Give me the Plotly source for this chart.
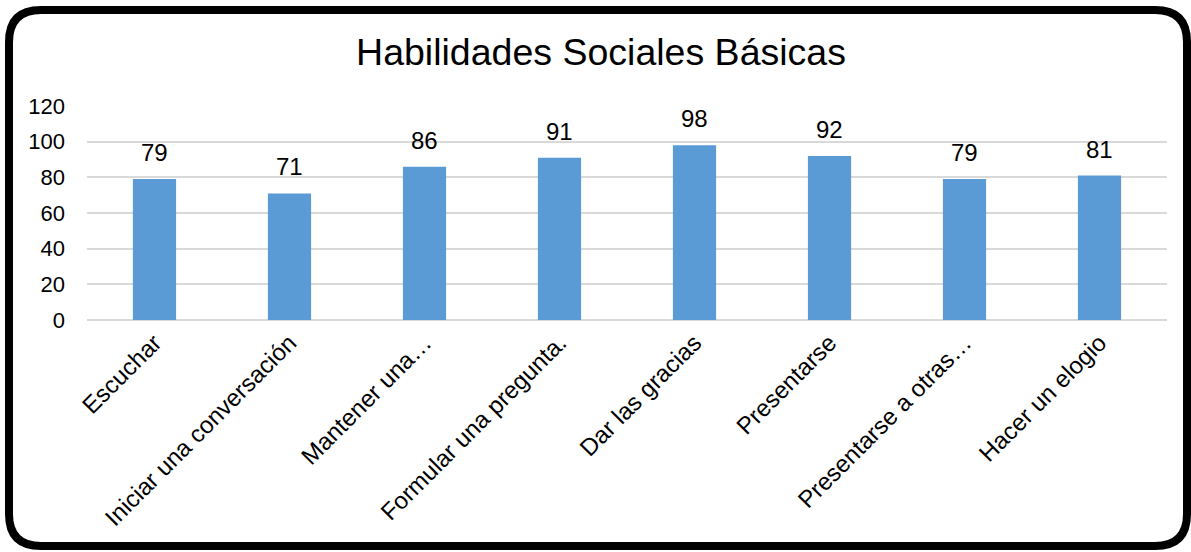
import plotly.graph_objects as go

categories = ["Escuchar", "Iniciar una conversación", "Mantener una…", "Formular una pregunta.",
              "Dar las gracias", "Presentarse", "Presentarse a otras…", "Hacer un elogio"]
values = [79, 71, 86, 91, 98, 92, 79, 81]
y_ticks = [0, 20, 40, 60, 80, 100, 120]

W, H = 1191, 552
L, R, T, B = 87, 24, 106, 232
PW, PH = W - L - R, H - T - B
FONT = "Arial, Liberation Sans, sans-serif"

fig = go.Figure()
fig.add_trace(go.Bar(x=categories, y=values, marker=dict(color="#5B9BD5", line=dict(width=0)),
                     width=0.32, hoverinfo="skip"))

for c, v in zip(categories, values):
    fig.add_annotation(x=c, y=v, text=str(v), showarrow=False, yanchor="bottom", yshift=11,
                       font=dict(size=24, color="#000000", family=FONT))

def px(x):
    return (x - L) / PW

def py(y):
    return (H - B - y) / PH

# rounded border
x0, x1, y0, y1, r = 9, 1187, 10, 546, 32
pts = [
    f"M {px(x0 + r)},{py(y0)}",
    f"L {px(x1 - r)},{py(y0)}",
    f"Q {px(x1)},{py(y0)} {px(x1)},{py(y0 + r)}",
    f"L {px(x1)},{py(y1 - r)}",
    f"Q {px(x1)},{py(y1)} {px(x1 - r)},{py(y1)}",
    f"L {px(x0 + r)},{py(y1)}",
    f"Q {px(x0)},{py(y1)} {px(x0)},{py(y1 - r)}",
    f"L {px(x0)},{py(y0 + r)}",
    f"Q {px(x0)},{py(y0)} {px(x0 + r)},{py(y0)} Z",
]
fig.add_shape(type="path", path=" ".join(pts), xref="paper", yref="paper",
              line=dict(color="#000000", width=8), layer="above")

fig.update_layout(
    width=W, height=H,
    margin=dict(l=L, r=R, t=T, b=B),
    paper_bgcolor="#ffffff", plot_bgcolor="#ffffff",
    showlegend=False,
    font=dict(family=FONT, size=22, color="#000000"),
    title=dict(text="Habilidades Sociales Básicas", x=px(601), xref="paper", xanchor="center",
               y=1 - 52 / H, yref="container", yanchor="middle",
               font=dict(size=37.5, family=FONT, color="#000000")),
    xaxis=dict(tickangle=-45, showgrid=False, showline=False, ticks="",
               tickfont=dict(size=24, family=FONT, color="#000000"), ticklabelstandoff=3),
    yaxis=dict(range=[0, 120], tickvals=y_ticks, showgrid=True, gridcolor="#d9d9d9", gridwidth=2,
               zeroline=True, zerolinecolor="#d9d9d9", zerolinewidth=2, showline=False, ticks="",
               tickfont=dict(size=22, family=FONT, color="#000000"), ticklabelstandoff=21),
    bargap=0.68,
)

fig.write_html("out.html", config={"displayModeBar": False},
               post_script="document.body.style.margin='0px';")
